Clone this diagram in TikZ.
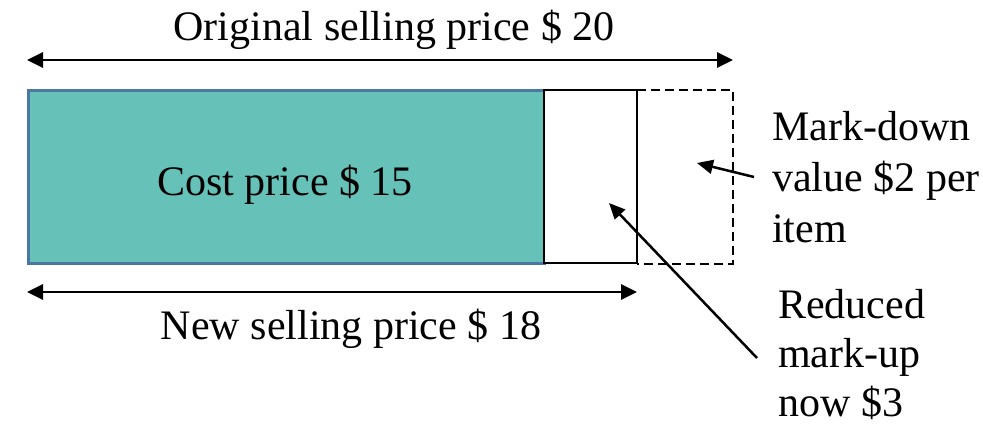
\documentclass[tikz,border=0pt]{standalone}
\usepackage{fontspec}
\setmainfont{Liberation Serif}
\usetikzlibrary{arrows.meta}
\definecolor{costfill}{RGB}{102,194,184}
\definecolor{costedge}{RGB}{74,120,160}
\tikzset{
  lbl/.style={inner sep=0pt, anchor=base, font=\fontsize{42}{51}\selectfont},
  side/.style={inner sep=0pt, anchor=base west, align=left, font=\fontsize{42}{51}\selectfont},
  sidetight/.style={side, font=\fontsize{42}{49}\selectfont},
  dim/.style={line width=2.8pt, {Triangle[length=16pt,width=15pt]}-{Triangle[length=16pt,width=15pt]}},
  pointer/.style={line width=2.5pt, -{Triangle[length=16pt,width=14pt]}},
}
\begin{document}
\begin{tikzpicture}[x=1pt,y=-1pt]
  \useasboundingbox (0,0) rectangle (983,426);
  % cost block, mark-up block, dashed mark-down block
  \draw[fill=costfill, draw=costedge, line width=3pt] (28,90) rectangle (544,263);
  \draw[fill=white, line width=2.8pt] (544,90) rectangle (637,263);
  \draw[dash pattern=on 9pt off 5pt, line width=2.6pt] (637,90) -- (733,90) -- (733,264) -- (637,264);
  \node[lbl] (cost) at (285,195) {Cost price \$ 15};
  % dimension lines
  \coordinate (tl) at (27,60);
  \coordinate (tr) at (733,60);
  \coordinate (bl) at (27,292);
  \coordinate (br) at (637,292);
  \draw[dim] (tl) -- (tr);
  \draw[dim] (bl) -- (br);
  \node[lbl] (orig) at (394,40) {Original selling price \$ 20};
  \node[lbl] (new) at (351,339) {New selling price \$ 18};
  % side notes with pointers (base anchor sits on the last line)
  \node[side] (md) at (772,242) {Mark-down\\value \$2 per\\item};
  \node[sidetight] (ru) at (778,416) {Reduced\\mark-up\\now \$3};
  \coordinate (mdtail) at (754,177);
  \coordinate (mdtip) at (697,163);
  \coordinate (rutail) at (757,358);
  \coordinate (rutip) at (609,203);
  \draw[pointer] (mdtail) -- (mdtip);
  \draw[pointer] (rutail) -- (rutip);
\end{tikzpicture}
\end{document}
